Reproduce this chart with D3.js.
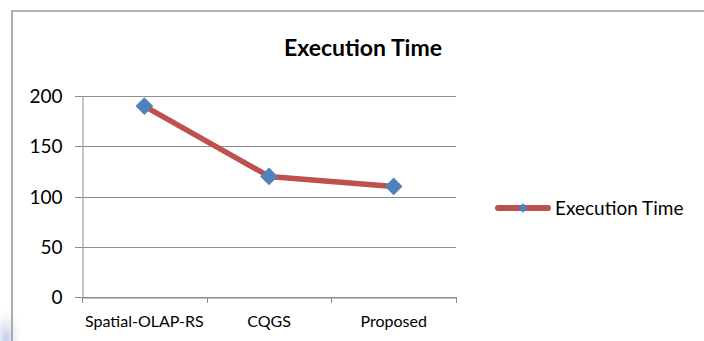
<!DOCTYPE html>
<html>
<head>
<meta charset="utf-8">
<script src="https://cdn.jsdelivr.net/npm/d3@7"></script>
<style>
  html, body { margin: 0; padding: 0; background: #fff; }
  svg { display: block; }
  text { font-family: Lato, "Open Sans", sans-serif; fill: #000; }
</style>
</head>
<body>
<svg id="chart" width="704" height="341"></svg>
<script>
const categories = ["Spatial-OLAP-RS", "CQGS", "Proposed"];
const seriesName = "Execution Time";
const values = [190, 120, 110];
const yTicks = [0, 50, 100, 150, 200];
const chartTitle = "Execution Time";

(function () {
const svg = d3.select("#chart");

// light blue smudge at bottom-left (scan artifact)
const defs = svg.append("defs");
const rg = defs.append("radialGradient").attr("id", "smudge");
rg.append("stop").attr("offset", "0%").attr("stop-color", "#b9c5e6").attr("stop-opacity", 0.9);
rg.append("stop").attr("offset", "100%").attr("stop-color", "#ffffff").attr("stop-opacity", 0);
svg.append("ellipse").attr("cx", 6).attr("cy", 338).attr("rx", 18).attr("ry", 34).attr("fill", "url(#smudge)");

// outer border
svg.append("path")
  .attr("d", "M12,345 L12,11 L710,11")
  .attr("fill", "none").attr("stroke", "#9a9a9a").attr("stroke-width", 1.6);

const pLeft = 82, pRight = 456, pTop = 96, pBottom = 297;

const x = d3.scaleBand().domain(categories).range([pLeft, pRight]);
const y = d3.scaleLinear().domain([0, 200]).range([pBottom, pTop]);

// gridlines
svg.append("g").selectAll("line").data(yTicks).join("line")
  .attr("x1", pLeft - 7).attr("x2", pRight)
  .attr("y1", d => Math.round(y(d)) + 0.5).attr("y2", d => Math.round(y(d)) + 0.5)
  .attr("stroke", "#8c8c8c").attr("stroke-width", 1);

// y axis
const yAxis = svg.append("g").attr("transform", `translate(${pLeft + 0.5},0)`)
  .call(d3.axisLeft(y).tickValues(yTicks).tickSize(0).tickPadding(20));
yAxis.select(".domain").attr("stroke", "#8c8c8c");
yAxis.selectAll("text").style("font-size", "19px").attr("dy", "0.35em");

// x axis
const xAxis = svg.append("g").attr("transform", `translate(0,${pBottom + 0.5})`)
  .call(d3.axisBottom(x).tickSize(0).tickPadding(18));
xAxis.select(".domain").attr("stroke", "#8c8c8c");
xAxis.selectAll("text").style("font-size", "16px");
// boundary tick marks
const bounds = [pLeft].concat(categories.map(c => x(c) + x.bandwidth()));
svg.append("g").selectAll("line").data(bounds).join("line")
  .attr("x1", d => Math.round(d) + 0.5).attr("x2", d => Math.round(d) + 0.5)
  .attr("y1", pBottom).attr("y2", pBottom + 6)
  .attr("stroke", "#8c8c8c");

// line
const line = d3.line().x((d, i) => x(categories[i]) + x.bandwidth() / 2).y(d => y(d));
svg.append("path").datum(values)
  .attr("d", line).attr("fill", "none")
  .attr("stroke", "#c0504d").attr("stroke-width", 5.5).attr("stroke-linejoin", "round");

// markers
const diamond = d3.symbol().type(d3.symbolDiamond2).size(200);
svg.append("g").selectAll("path").data(values).join("path")
  .attr("d", diamond)
  .attr("transform", (d, i) => `translate(${x(categories[i]) + x.bandwidth() / 2},${y(d)})`)
  .attr("fill", "#4f81bd");

// title
svg.append("text").attr("x", 363).attr("y", 56).attr("text-anchor", "middle")
  .style("font-size", "23px").style("font-weight", "bold").text(chartTitle);

// legend
const ly = 208;
svg.append("line").attr("x1", 498).attr("x2", 548).attr("y1", ly).attr("y2", ly)
  .attr("stroke", "#c0504d").attr("stroke-width", 6).attr("stroke-linecap", "round");
svg.append("path").attr("d", d3.symbol().type(d3.symbolDiamond2).size(60))
  .attr("transform", `translate(523,${ly})`).attr("fill", "#4f81bd");
svg.append("text").attr("x", 555).attr("y", 214.5)
  .style("font-size", "19px").text(seriesName);
})();
</script>
</body>
</html>
